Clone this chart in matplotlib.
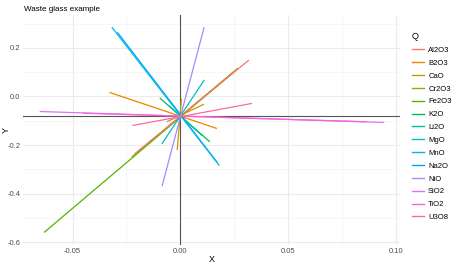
import numpy as np
import matplotlib
matplotlib.use("Agg")
import matplotlib.pyplot as plt
from matplotlib.lines import Line2D

# Components (legend order) and ggplot hue colours
components = ["Al2O3", "B2O3", "CaO", "Cr2O3", "Fe2O3", "K2O", "Li2O",
              "MgO", "MnO", "Na2O", "NiO", "SiO2", "TiO2", "U3O8"]
colors = ["#F8766D", "#E38900", "#C49A00", "#99A800", "#53B400", "#00BC56",
          "#00C094", "#00BFC4", "#00B6EB", "#06A4FF", "#A58AFF", "#DF70F8",
          "#FB61D7", "#FF66A8"]

# Reference point (hline / vline)
x_ref = 0.0
y_ref = -0.082

# Segments
seg_q = ["Fe2O3", "Cr2O3", "Al2O3", "B2O3", "CaO", "CaO", "K2O", "Li2O",
         "MgO", "Na2O", "MnO", "NiO", "SiO2", "TiO2", "U3O8"]
seg_x1 = [-0.0630, -0.0223, -0.0210, -0.0326, 0.0005, -0.0060, -0.0093, -0.0050,
          -0.0084, -0.0290, -0.0316, 0.0110, -0.0650, -0.0450, -0.0219]
seg_y1 = [-0.558, -0.247, -0.235, 0.016, -0.012, -0.103, -0.008, -0.040,
          -0.193, 0.262, 0.283, 0.283, -0.062, -0.069, -0.119]
seg_x2 = [0.0240, 0.0265, 0.0316, 0.0167, -0.0014, 0.0107, 0.0135, 0.0100,
          0.0110, 0.0170, 0.0180, -0.0084, 0.0944, 0.0860, 0.0330]
seg_y2 = [0.095, 0.115, 0.148, -0.131, -0.218, -0.033, -0.185, -0.160,
          0.066, -0.270, -0.283, -0.367, -0.107, -0.104, -0.029]

x_ticks = [-0.05, 0.00, 0.05, 0.10]
y_ticks = [-0.6, -0.4, -0.2, 0.0, 0.2]

plt.rcParams["font.family"] = ["Liberation Sans", "DejaVu Sans"]

fig = plt.figure(figsize=(4.52, 2.65), dpi=100)
ax = fig.add_axes([0.051, 0.075, 0.834, 0.868])

color_of = dict(zip(components, colors))

# grid (theme_minimal style)
ax.set_xlim(-0.073, 0.102)
ax.set_ylim(-0.612, 0.335)
ax.set_xticks(x_ticks)
ax.set_yticks(y_ticks)
ax.set_xticks([-0.025, 0.025, 0.075], minor=True)
ax.set_yticks([-0.5, -0.3, -0.1, 0.1, 0.3], minor=True)
ax.grid(True, which="major", color="#EBEBEB", linewidth=0.8)
ax.grid(True, which="minor", color="#F3F3F3", linewidth=0.5)
ax.set_axisbelow(True)

ax.axhline(y_ref, color="#555555", linewidth=0.8, zorder=3)
ax.axvline(x_ref, color="#555555", linewidth=0.8, zorder=3)

for q, x1, y1, x2, y2 in zip(seg_q, seg_x1, seg_y1, seg_x2, seg_y2):
    ax.plot([x1, x2], [y1, y2], color=color_of[q], linewidth=0.9, zorder=4)

for s in ax.spines.values():
    s.set_visible(False)
ax.tick_params(which="both", length=0, labelsize=5.5, labelcolor="#4D4D4D", pad=2)
ax.set_xticklabels(["-0.05", "0.00", "0.05", "0.10"])
ax.set_yticklabels(["-0.6", "-0.4", "-0.2", "0.0", "0.2"])

ax.set_xlabel("X", fontsize=6.5, labelpad=0)
ax.set_ylabel("Y", fontsize=6.5)
ax.yaxis.set_label_coords(-0.033, 0.5)

fig.text(0.053, 0.966, "Waste glass example", fontsize=5.8, va="center", ha="left")

handles = [Line2D([], [], color=c, linewidth=1.0) for c in colors]
leg = fig.legend(handles, components, title="Q", loc="upper left",
                 bbox_to_anchor=(0.905, 0.89), frameon=False, fontsize=5.5,
                 title_fontsize=6.5, handlelength=1.6, handletextpad=0.5,
                 labelspacing=0.72, borderaxespad=0)
leg._legend_box.align = "left"

fig.savefig("out.png", dpi=100)
